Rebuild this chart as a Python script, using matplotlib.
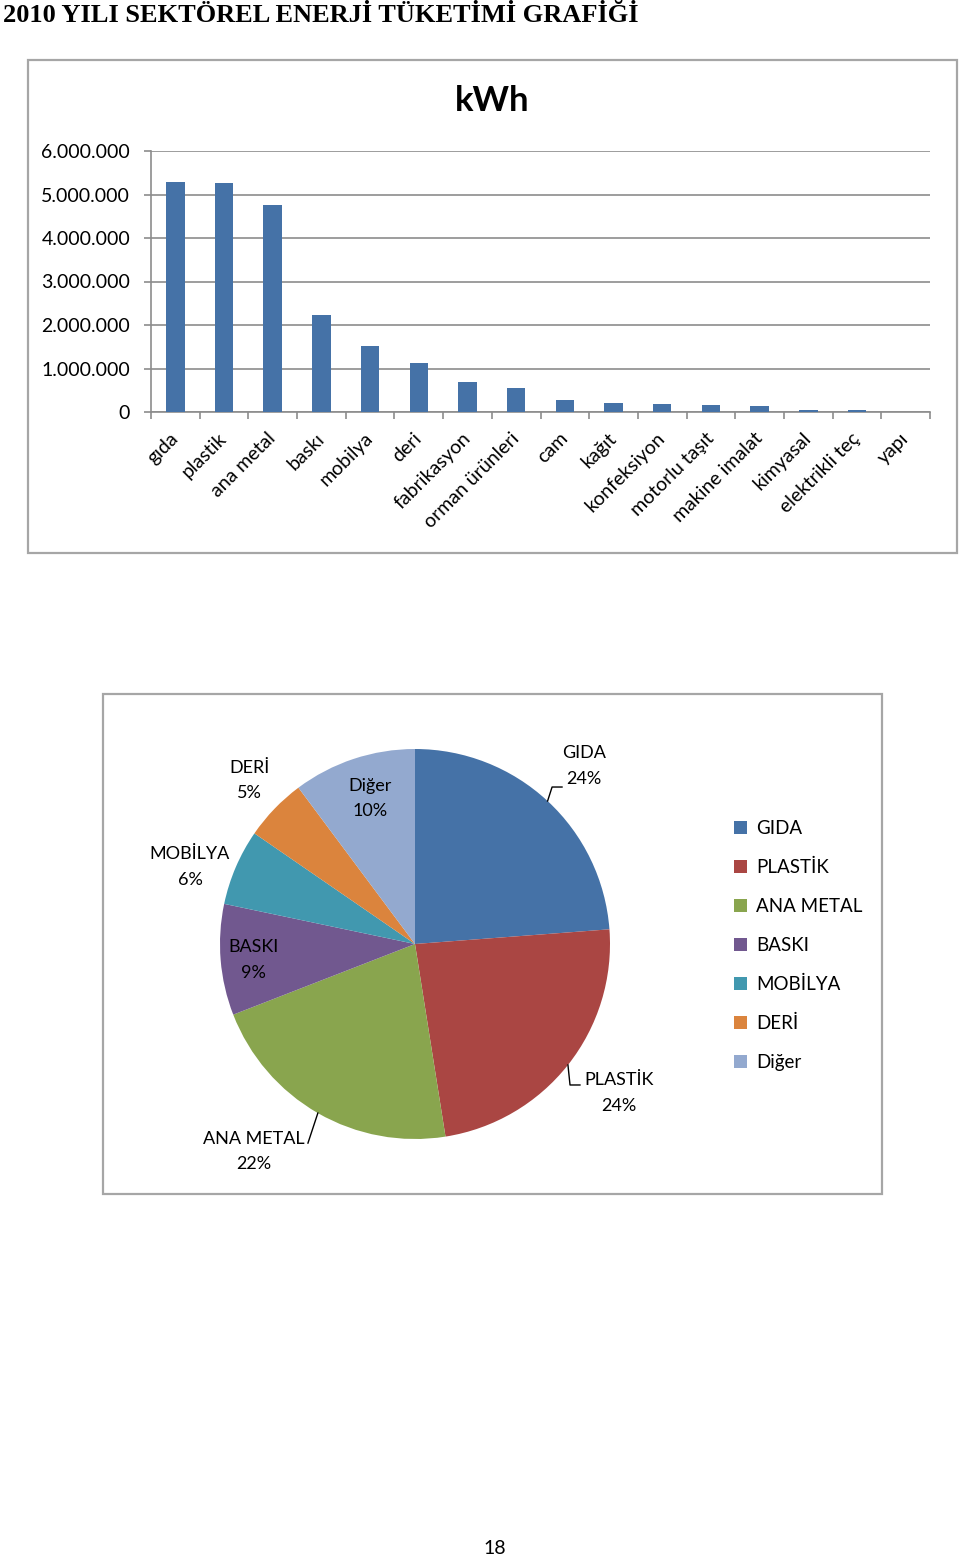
import matplotlib
matplotlib.use('Agg')
import matplotlib.pyplot as plt
import numpy as np
from matplotlib.patches import Rectangle

plt.rcParams['font.family'] = ['Lato', 'DejaVu Sans']

# bar chart data (kWh)
sectors = ['gıda', 'plastik', 'ana metal', 'baskı', 'mobilya', 'deri', 'fabrikasyon',
           'orman ürünleri', 'cam', 'kağıt', 'konfeksiyon', 'motorlu taşıt',
           'makine imalat', 'kimyasal', 'elektrikli teç', 'yapı']
kwh = [5290000, 5260000, 4770000, 2220000, 1520000, 1130000, 690000, 545000,
       270000, 210000, 190000, 170000, 140000, 50000, 40000, 0]
yticks = [0, 1000000, 2000000, 3000000, 4000000, 5000000, 6000000]

# pie chart data (share %)
pie_labels = ['GIDA', 'PLASTİK', 'ANA METAL', 'BASKI', 'MOBİLYA', 'DERİ', 'Diğer']
pie_share = [23.8, 23.7, 21.6, 9.2, 6.3, 5.2, 10.2]
pie_colors = ['#4572A7', '#AA4643', '#89A54E', '#71588F', '#4198AF', '#DB843D', '#93A9CF']

W, H = 960, 1558
fig = plt.figure(figsize=(W / 100, H / 100), dpi=100)

def fx(px):
    return px / W

def fy(py):
    return 1 - py / H

fig.text(fx(3), fy(16), '2010 YILI SEKTÖREL ENERJİ TÜKETİMİ GRAFİĞİ',
         family='Liberation Serif', fontweight='bold', fontsize=19, va='center', ha='left')

# frames around the two charts
for x0, y0, x1, y1 in [(28, 60, 957, 553), (103, 694, 882, 1194)]:
    fig.add_artist(Rectangle((fx(x0), fy(y1)), fx(x1 - x0), (y1 - y0) / H,
                             transform=fig.transFigure, fill=False,
                             edgecolor='#A6A6A6', linewidth=1.6))

# ---- bar chart
ax = fig.add_axes([fx(151), fy(412), fx(930 - 151), (412 - 151) / H])
x = np.arange(len(sectors))
ax.bar(x, kwh, width=0.38, color='#4572A7', zorder=3)
ax.set_xlim(-0.5, len(sectors) - 0.5)
ax.set_ylim(0, 6000000)
ax.set_yticks(yticks)
ax.set_yticklabels([f'{v:,}'.replace(',', '.') for v in yticks], fontsize=14)
ax.yaxis.grid(True, color='#8C8C8C', linewidth=1.2, zorder=0)
ax.set_xticks(np.arange(-0.5, len(sectors), 1))
ax.set_xticklabels([])
ax.set_xticks(x, minor=True)
ax.set_xticklabels(sectors, minor=True, rotation=45, ha='right', va='center',
                   rotation_mode='anchor', fontsize=14)
ax.tick_params(axis='x', which='minor', length=0, pad=17)
ax.tick_params(axis='x', which='major', length=5, color='#8C8C8C', width=1.2)
ax.tick_params(axis='y', length=5, color='#8C8C8C', width=1.2, pad=10)
for s in ['top', 'right']:
    ax.spines[s].set_visible(False)
for s in ['left', 'bottom']:
    ax.spines[s].set_color('#8C8C8C')
    ax.spines[s].set_linewidth(1.2)
fig.text(fx(492), fy(101), 'kWh', fontsize=25, fontweight='bold', ha='center', va='center')

# ---- pie chart
cx, cy, r = 415, 944, 195
pax = fig.add_axes([fx(cx - r), fy(cy + r), fx(2 * r), 2 * r / H])
wedges, _ = pax.pie(pie_share, colors=pie_colors, startangle=90, counterclock=False,
                    radius=1.0)
pax.set_xlim(-1, 1)
pax.set_ylim(-1, 1)
pax.axis('off')

# label placement (pie data units) and leader elbows
label_pos = [(0.867, 0.913), (1.046, -0.764), (-0.826, -1.063), (-0.826, -0.082),
             (-1.154, 0.395), (-0.851, 0.837), (-0.231, 0.744)]
leaders = {0: [(0.703, 0.805), (0.754, 0.805)],
           1: [(0.795, -0.723), (0.846, -0.723)],
           2: [(-0.549, -1.021)]}
total = sum(pie_share)
for i, w in enumerate(wedges):
    txt = f'{pie_labels[i]}\n{round(pie_share[i] / total * 100)}%'
    pax.text(*label_pos[i], txt, ha='center', va='center', fontsize=13,
             linespacing=1.7, clip_on=False)
    if i in leaders:
        mid = np.deg2rad((w.theta1 + w.theta2) / 2)
        pts = [(np.cos(mid), np.sin(mid))] + leaders[i]
        pax.plot([p[0] for p in pts], [p[1] for p in pts], color='black',
                 linewidth=1, clip_on=False)

fig.legend(wedges, pie_labels, loc='upper left', bbox_to_anchor=(fx(734), fy(820)),
           frameon=False, fontsize=13.5, handlelength=0.7, handleheight=0.7,
           handletextpad=0.5, labelspacing=1.17, borderaxespad=0, borderpad=0)

fig.text(fx(495), fy(1548), '18', fontsize=14, ha='center', va='center')

fig.savefig('out.png', dpi=100)
